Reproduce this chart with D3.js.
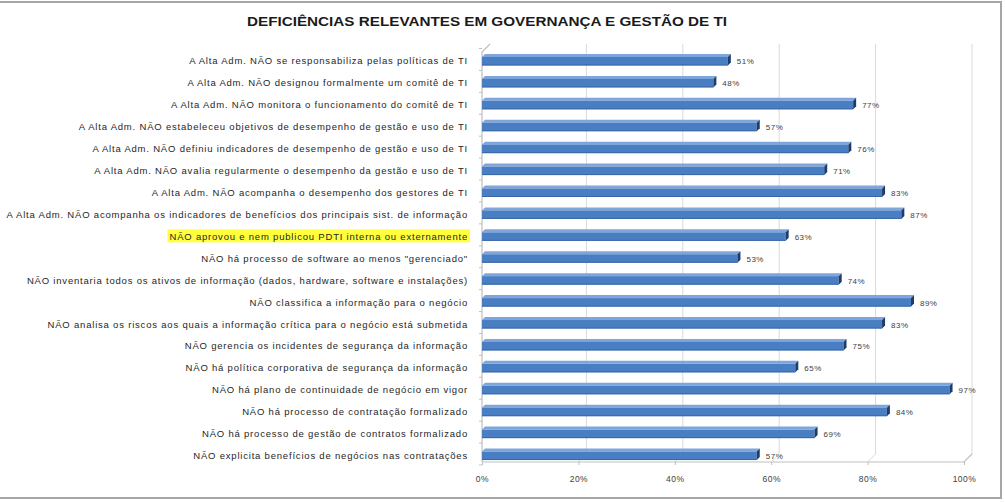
<!DOCTYPE html>
<html>
<head>
<meta charset="utf-8">
<script src="https://cdn.jsdelivr.net/npm/d3@7"></script>
<style>
  body { margin: 0; background: #fff; }
  svg { display: block; }
</style>
</head>
<body>
<svg id="chart" width="1005" height="503"></svg>
<script>
const title = "DEFICIÊNCIAS RELEVANTES EM GOVERNANÇA E GESTÃO DE TI";

const categories = [
  "A Alta Adm. NÃO  se responsabiliza pelas políticas de TI",
  "A Alta Adm. NÃO designou formalmente um comitê de TI",
  "A Alta Adm. NÃO monitora o funcionamento do comitê de TI",
  "A Alta Adm. NÃO estabeleceu objetivos de desempenho de gestão e uso de TI",
  "A Alta Adm. NÃO definiu indicadores de desempenho de gestão e uso de TI",
  "A Alta Adm. NÃO avalia regularmente o desempenho da gestão e uso de TI",
  "A Alta Adm. NÃO  acompanha o desempenho dos gestores de TI",
  "A Alta Adm. NÃO acompanha os indicadores de benefícios dos principais sist. de informação",
  "NÃO aprovou e nem publicou PDTI interna ou externamente",
  "NÃO há processo de software ao menos \"gerenciado\"",
  "NÃO inventaria todos os ativos de informação (dados, hardware, software e instalações)",
  "NÃO classifica a informação para o negócio",
  "NÃO analisa os riscos aos quais  a informação crítica para o negócio está submetida",
  "NÃO gerencia os incidentes de segurança da informação",
  "NÃO há política corporativa de segurança da informação",
  "NÃO há plano de continuidade de negócio em vigor",
  "NÃO há processo de contratação formalizado",
  "NÃO há processo de gestão de contratos formalizado",
  "NÃO explicita benefícios de negócios nas contratações"
];

const values = [0.51, 0.48, 0.77, 0.57, 0.76, 0.71, 0.83, 0.87, 0.63, 0.53,
                0.74, 0.89, 0.83, 0.75, 0.65, 0.97, 0.84, 0.69, 0.57];

const highlighted = ["NÃO aprovou e nem publicou PDTI interna ou externamente"];

const ticks = [0, 0.2, 0.4, 0.6, 0.8, 1.0];

const svg = d3.select("#chart");
const font = "'Liberation Sans', Arial, sans-serif";

// frame
svg.append("rect").attr("x", -5).attr("y", 2).attr("width", 1006).attr("height", 496)
  .attr("fill", "none").attr("stroke", "#a6a6a6").attr("stroke-width", 2);

// title
svg.append("text").attr("x", 487).attr("y", 21)
  .attr("text-anchor", "middle").attr("dominant-baseline", "central")
  .attr("font-family", font).attr("font-weight", "bold").attr("font-size", 13.5)
  .attr("fill", "#1a1a1a")
  .attr("textLength", 480).attr("lengthAdjust", "spacingAndGlyphs")
  .text(title);

const x = d3.scaleLinear().domain([0, 1]).range([482, 964]);
const y = d3.scaleBand().domain(categories).range([48.5, 465]);
const DX = 8, DY = -8;     // wall depth
const bx = 3, by = -3;     // bar depth
const floorY = 462;
const wallTop = 52;

// back wall gridlines
const grid = svg.append("g");
ticks.forEach(t => {
  const xf = x(t);
  grid.append("path")
    .attr("d", `M${xf},${floorY} L${xf + DX},${floorY + DY} L${xf + DX},${wallTop + DY}`)
    .attr("fill", "none")
    .attr("stroke", t === 0 ? "none" : "#d9d9d9").attr("stroke-width", 1);
});

// left wall
svg.append("path")
  .attr("d", `M${x(0)},${floorY} L${x(0)},${wallTop} L${x(0) + DX},${wallTop + DY}`)
  .attr("fill", "none").attr("stroke", "#bfbfbf").attr("stroke-width", 1.2);
// floor front edge
svg.append("path")
  .attr("d", `M${x(0)},${floorY} L${x(1)},${floorY} L${x(1) + DX},${floorY + DY}`)
  .attr("fill", "none").attr("stroke", "#bfbfbf").attr("stroke-width", 1.2);

// axis ticks on floor
const xAxis = d3.axisBottom(x).tickValues(ticks).tickFormat(d3.format(".0%")).tickSize(3).tickPadding(11);
const ax = svg.append("g").attr("transform", `translate(0,${floorY})`).call(xAxis);
ax.select(".domain").remove();
ax.selectAll(".tick line").attr("stroke", "#bfbfbf");
ax.selectAll(".tick text").attr("font-family", font).attr("font-size", 8.5)
  .attr("letter-spacing", 0.5).attr("fill", "#404040");

// left wall category ticks
const bands = categories.map(c => y(c)).concat([y.range()[1]]);
svg.append("g").selectAll("line").data(bands).join("line")
  .attr("x1", x(0) - 3).attr("x2", x(0))
  .attr("y1", d => d).attr("y2", d => d)
  .attr("stroke", "#bfbfbf");

// category labels (with highlight)
const labelX = 468;
const cat = svg.append("g");
categories.forEach((c, i) => {
  const cy = y(c) + y.bandwidth() / 2;
  const t = cat.append("text")
    .attr("x", labelX).attr("y", cy + 1.5)
    .attr("text-anchor", "end").attr("dominant-baseline", "central")
    .attr("font-family", font).attr("font-size", 9.5).attr("letter-spacing", 0.8)
    .attr("fill", "#262626")
    .text(c);
  if (highlighted.includes(c)) {
    const bb = t.node().getBBox();
    cat.insert("rect", "text")
      .attr("x", bb.x - 2).attr("y", cy - 5.5).attr("width", bb.width + 4).attr("height", 13)
      .attr("fill", "#ffff3c");
  }
});

// bars
const bars = svg.append("g");
categories.forEach((c, i) => {
  const v = values[i];
  const cy = y(c) + y.bandwidth() / 2 + 1;
  const x0 = x(0), x1 = x(v);
  const top = cy - 3.5, h = 8.5;
  // top face
  bars.append("path")
    .attr("d", `M${x0},${top} L${x1},${top} L${x1 + bx},${top + by} L${x0 + bx},${top + by} Z`)
    .attr("fill", "#7ea6dc");
  // front face
  bars.append("rect").attr("x", x0).attr("y", top).attr("width", x1 - x0).attr("height", h)
    .attr("fill", "#4a7ec2");
  bars.append("line").attr("x1", x0).attr("x2", x1).attr("y1", top + h - 0.5).attr("y2", top + h - 0.5)
    .attr("stroke", "#3a68a6").attr("stroke-width", 1);
  // right end face
  bars.append("path")
    .attr("d", `M${x1},${top} L${x1 + bx},${top + by} L${x1 + bx},${top + h + by} L${x1},${top + h} Z`)
    .attr("fill", "#1d3c69");
  // value label
  bars.append("text")
    .attr("x", x1 + 9).attr("y", cy + 1.5)
    .attr("dominant-baseline", "central")
    .attr("font-family", font).attr("font-size", 8).attr("letter-spacing", 0.5)
    .attr("fill", "#404040")
    .text(d3.format(".0%")(v));
});
</script>
</body>
</html>
